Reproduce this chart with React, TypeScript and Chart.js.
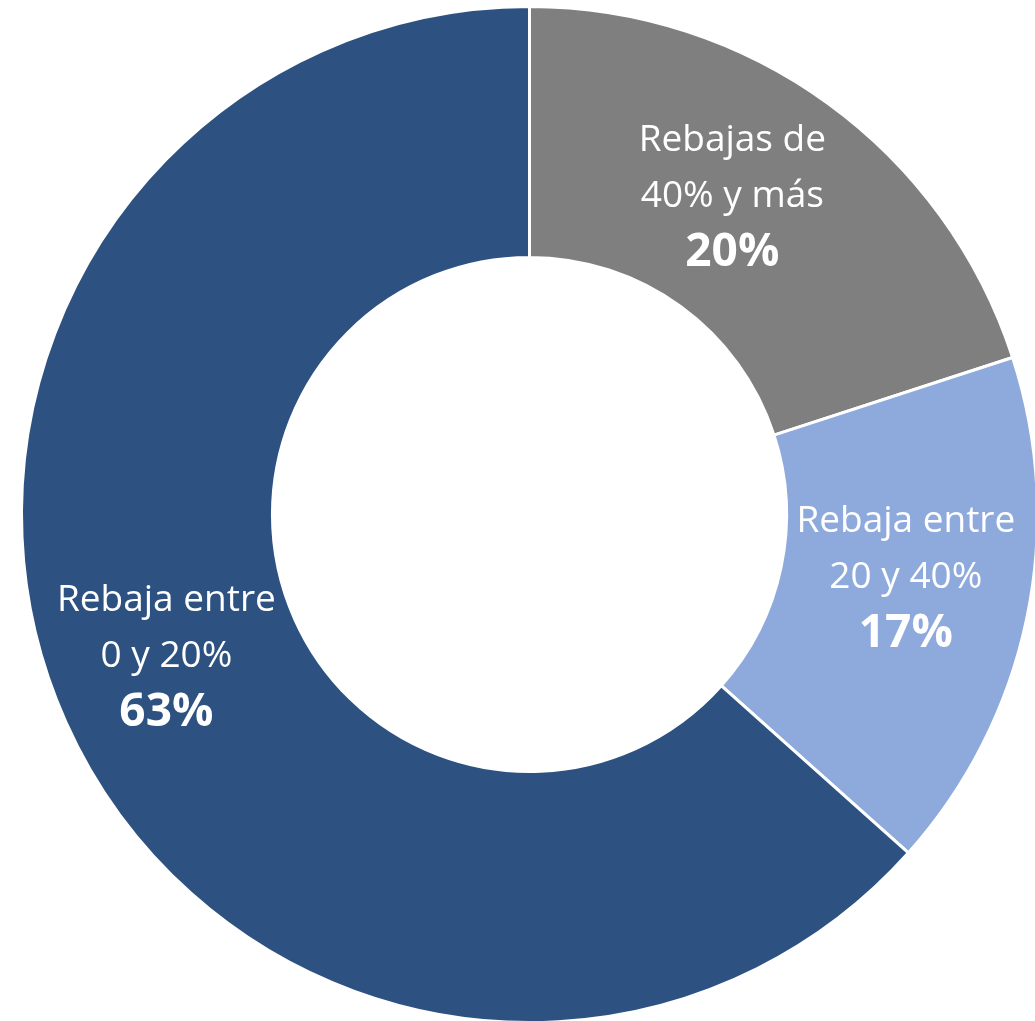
import React, { useEffect, useRef } from "react";
import { Chart, registerables } from "chart.js";

Chart.register(...registerables);

const categories: string[][] = [
  ["Rebajas de", "40% y más"],
  ["Rebaja entre", "20 y 40%"],
  ["Rebaja entre", "0 y 20%"],
];
const shares: number[] = [20.0, 16.6, 63.4];
const shareLabels: string[] = ["20%", "17%", "63%"];
const colors: string[] = ["#7f7f7f", "#8eaadc", "#2d5281"];

// label nudges relative to each arc's centre point (style/layout, not data)
const labelNudge: [number, number][] = [
  [-22, 2],
  [2, -5],
  [-14, -4],
];

const labelPlugin = {
  id: "sliceLabels",
  afterDatasetsDraw(chart: any) {
    const ctx = chart.ctx as CanvasRenderingContext2D;
    const meta = chart.getDatasetMeta(0);
    meta.data.forEach((arc: any, i: number) => {
      const p = arc.tooltipPosition();
      const x = p.x + labelNudge[i][0];
      const y = p.y + labelNudge[i][1];
      ctx.save();
      ctx.fillStyle = "#ffffff";
      ctx.textAlign = "center";
      ctx.textBaseline = "alphabetic";
      ctx.font = '37px "Open Sans"';
      ctx.fillText(categories[i][0], x, y - 56);
      ctx.fillText(categories[i][1], x, y);
      ctx.font = 'bold 46px "Open Sans"';
      ctx.fillText(shareLabels[i], x, y + 59);
      ctx.restore();
    });
  },
};

export default function App() {
  const ref = useRef<HTMLCanvasElement | null>(null);
  useEffect(() => {
    if (!ref.current) return;
    const chart = new Chart(ref.current, {
      type: "doughnut",
      data: {
        labels: categories.map((c) => c.join(" ")),
        datasets: [
          {
            data: shares,
            backgroundColor: colors,
            borderColor: "#ffffff",
            borderWidth: 3,
            hoverBorderWidth: 3,
          },
        ],
      },
      options: {
        responsive: false,
        animation: false,
        cutout: "50.6%",
        rotation: 0,
        layout: { padding: { left: 20, top: 5, right: 21, bottom: 16 } },
        plugins: {
          legend: { display: false },
          tooltip: { enabled: false },
        },
      },
      plugins: [labelPlugin],
    });
    return () => chart.destroy();
  }, []);
  return (
    <div
      style={{
        position: "fixed",
        left: 0,
        top: 0,
        width: 1035,
        height: 1021,
        overflow: "hidden",
        background: "#ffffff",
      }}
    >
      <canvas ref={ref} width={1060} height={1040} style={{ display: "block" }} />
    </div>
  );
}
